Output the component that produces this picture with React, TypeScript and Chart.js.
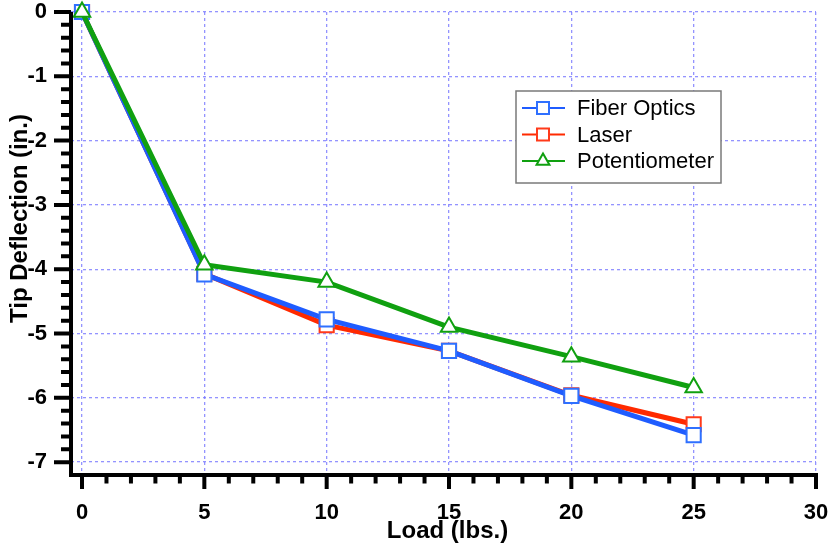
import { useEffect, useRef } from 'react';
import { Chart, registerables } from 'chart.js';

Chart.register(...registerables);

const loads = [0, 5, 10, 15, 20, 25];
const fiberOptics = [0, -4.08, -4.78, -5.27, -5.97, -6.58];
const laser = [0, -4.07, -4.87, -5.27, -5.96, -6.41];
const potentiometer = [0, -3.93, -4.2, -4.9, -5.36, -5.84];

const seriesLabels = ['Fiber Optics', 'Laser', 'Potentiometer'];
const xTicks = [0, 5, 10, 15, 20, 25, 30];
const yTicks = [0, -1, -2, -3, -4, -5, -6, -7];
const xTitle = 'Load (lbs.)';
const yTitle = 'Tip Deflection (in.)';

const FONT = "'Liberation Sans', Arial, Helvetica, sans-serif";

const BLUE = '#1f5cff';
const BLUE_MARK = '#2f70ff';
const RED = '#ff2a00';
const RED_MARK = '#ff3a1a';
const GREEN = '#10a010';

function drawMarker(ctx: CanvasRenderingContext2D, style: string, x: number, y: number, size: number, color: string) {
  ctx.save();
  ctx.fillStyle = '#fff';
  ctx.strokeStyle = color;
  ctx.lineWidth = 2;
  ctx.beginPath();
  if (style === 'rect') {
    ctx.rect(x - size / 2, y - size / 2, size, size);
  } else {
    const r = size * 0.62;
    ctx.moveTo(x, y - r);
    ctx.lineTo(x + r * 0.866, y + r / 2);
    ctx.lineTo(x - r * 0.866, y + r / 2);
    ctx.closePath();
  }
  ctx.fill();
  ctx.stroke();
  ctx.restore();
}

const decorPlugin = {
  id: 'decor',
  afterDraw(chart: any) {
    const { ctx, chartArea, scales } = chart;
    const xs = scales.x;
    const ys = scales.y;
    const ax = chartArea.left;
    const ay = chartArea.bottom;
    ctx.save();
    ctx.strokeStyle = '#000';
    ctx.lineWidth = 4;
    ctx.lineCap = 'butt';
    ctx.beginPath();
    ctx.moveTo(ax, chartArea.top);
    ctx.lineTo(ax, ay + 2);
    ctx.moveTo(ax - 2, ay);
    ctx.lineTo(chartArea.right + 2, ay);
    // x tick marks (major every 5, minor every 1)
    for (let i = 0; i <= 30; i++) {
      const px = xs.getPixelForValue(i);
      const len = i % 5 === 0 ? 14 : 8.5;
      ctx.moveTo(px, ay);
      ctx.lineTo(px, ay + len);
    }
    // y tick marks (major every 1, minor every 0.2)
    for (let i = 0; i <= 35; i++) {
      const v = -7 + i * 0.2;
      const py = ys.getPixelForValue(v);
      const len = i % 5 === 0 ? 17 : 10;
      ctx.moveTo(ax, py);
      ctx.lineTo(ax - len, py);
    }
    ctx.stroke();

    // axis titles
    ctx.fillStyle = '#000';
    ctx.font = `bold 24px ${FONT}`;
    ctx.textAlign = 'center';
    ctx.textBaseline = 'alphabetic';
    ctx.fillText(xTitle, 447.5, 538);
    ctx.save();
    ctx.translate(27, 218.5);
    ctx.rotate(-Math.PI / 2);
    ctx.fillText(yTitle, 0, 0);
    ctx.restore();

    // legend
    const bx = 516, by = 91, bw = 205, bh = 92;
    ctx.fillStyle = '#fff';
    ctx.fillRect(bx, by, bw, bh);
    ctx.strokeStyle = '#7a7a7a';
    ctx.lineWidth = 1.5;
    ctx.strokeRect(bx, by, bw, bh);
    const rows = [108, 134.5, 161];
    const ds = chart.data.datasets;
    ds.forEach((d: any, i: number) => {
      const y = rows[i];
      ctx.strokeStyle = d.borderColor;
      ctx.lineWidth = 2;
      ctx.beginPath();
      ctx.moveTo(522, y);
      ctx.lineTo(565, y);
      ctx.stroke();
      drawMarker(ctx, d.pointStyle, 543, y, 12, d.pointBorderColor);
      ctx.fillStyle = '#000';
      ctx.font = `22px ${FONT}`;
      ctx.textAlign = 'left';
      ctx.textBaseline = 'middle';
      ctx.fillText(d.label, 577, y + 1);
    });
    ctx.restore();
  },
};

export default function App() {
  const ref = useRef<HTMLCanvasElement | null>(null);

  useEffect(() => {
    if (!ref.current) return;
    Chart.defaults.font.family = FONT;
    const gridCommon = {
      color: 'rgba(120,120,255,0.8)',
      lineWidth: 1.3,
      drawTicks: false,
    };
    const chart = new Chart(ref.current, {
      type: 'line',
      data: {
        datasets: [
          {
            label: seriesLabels[0],
            data: loads.map((x, i) => ({ x, y: fiberOptics[i] })),
            borderColor: BLUE,
            borderWidth: 5,
            pointStyle: 'rect',
            pointRadius: 10,
            pointBorderWidth: 2,
            pointBorderColor: BLUE_MARK,
            pointBackgroundColor: '#fff',
            order: 1,
            clip: false,
          },
          {
            label: seriesLabels[1],
            data: loads.map((x, i) => ({ x, y: laser[i] })),
            borderColor: RED,
            borderWidth: 5,
            pointStyle: 'rect',
            pointRadius: 10,
            pointBorderWidth: 2,
            pointBorderColor: RED_MARK,
            pointBackgroundColor: '#fff',
            order: 2,
            clip: false,
          },
          {
            label: seriesLabels[2],
            data: loads.map((x, i) => ({ x, y: potentiometer[i] })),
            borderColor: GREEN,
            borderWidth: 5,
            pointStyle: 'triangle',
            pointRadius: 9.5,
            pointBorderWidth: 2,
            pointBorderColor: GREEN,
            pointBackgroundColor: '#fff',
            order: 0,
            clip: false,
          },
        ],
      } as any,
      options: {
        animation: false,
        responsive: false,
        events: [],
        layout: { padding: { top: 12, right: 18, left: 0, bottom: 0 } },
        plugins: {
          legend: { display: false },
          tooltip: { enabled: false },
        },
        scales: {
          x: {
            type: 'linear',
            min: -0.45,
            max: 30,
            afterBuildTicks: (s: any) => {
              s.ticks = xTicks.map((v) => ({ value: v }));
            },
            afterFit: (s: any) => {
              s.height = 81;
              s.paddingLeft = 0;
              s.paddingRight = 0;
            },
            ticks: {
              color: '#000',
              padding: 25,
              autoSkip: false,
              maxRotation: 0,
              font: { size: 22, weight: 'bold', family: FONT },
              callback: (v: any) => String(v),
            },
            grid: gridCommon,
            border: { display: false, dash: [3, 3] },
          },
          y: {
            type: 'linear',
            min: -7.2,
            max: 0,
            afterBuildTicks: (s: any) => {
              s.ticks = yTicks.map((v) => ({ value: v }));
            },
            afterFit: (s: any) => {
              s.width = 71;
              s.paddingTop = 0;
              s.paddingBottom = 0;
            },
            ticks: {
              color: '#000',
              padding: 24,
              autoSkip: false,
              font: { size: 22, weight: 'bold', family: FONT },
              callback: (v: any) => String(v),
            },
            grid: gridCommon,
            border: { display: false, dash: [3, 3] },
          },
        },
      } as any,
      plugins: [decorPlugin],
    });
    return () => chart.destroy();
  }, []);

  return (
    <div style={{ position: 'fixed', left: 0, top: 0, width: 834, height: 556, background: '#fff' }}>
      <canvas ref={ref} width={834} height={556} style={{ display: 'block' }} />
    </div>
  );
}
